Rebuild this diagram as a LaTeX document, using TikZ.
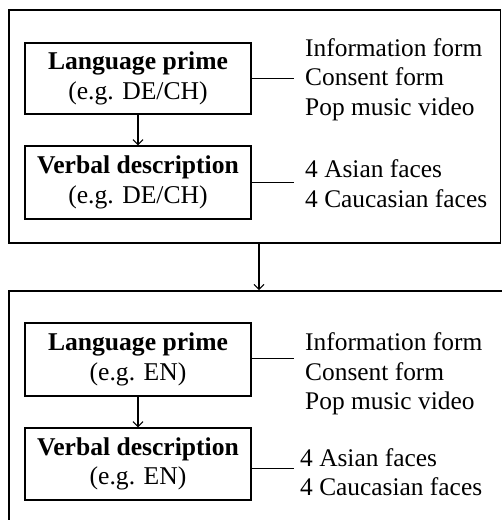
\documentclass[tikz,border=0pt]{standalone}
\usepackage{fontspec}
\setmainfont{Liberation Serif}
\usetikzlibrary{arrows.meta}
\begin{document}
\begin{tikzpicture}[x=1pt,y=-1pt,
  outerbox/.style={draw, line width=1.6pt, inner sep=0pt},
  stagebox/.style={draw, line width=1.2pt, inner sep=0pt, minimum width=226pt,
    align=center, font=\fontsize{25.6}{29.5}\selectfont},
  itemlist/.style={anchor=west, inner sep=0pt, align=left,
    font=\fontsize{25.4}{29.5}\selectfont},
  link/.style={line width=0.9pt},
  flow/.style={line width=1.1pt, -{Straight Barb[length=5pt,width=10pt]}}]
\useasboundingbox (0,0) rectangle (502,520);
\clip (0,0) rectangle (502,520);
% outer boxes
\node[outerbox, minimum width=491.5pt, minimum height=233pt] (outer1) at (254.75,126.5) {};
\node[outerbox, minimum width=531pt, minimum height=269pt] (outer2) at (274.5,425.5) {};
% stage 1
\node[stagebox, minimum height=71pt] (lp1) at (138,78.5) {\textbf{Language prime}\\(e.g. DE/CH)};
\node[stagebox, minimum height=73pt] (vd1) at (138,182.5) {\textbf{Verbal description}\\(e.g. DE/CH)};
\node[itemlist] (info1) at (305,79.5) {Information form\\Consent form\\Pop music video};
\node[itemlist] (faces1) at (305,183.5) {4 Asian faces\\4 Caucasian faces};
\coordinate (c1) at (294,78);
\coordinate (c2) at (294,182.5);
% stage 2
\node[stagebox, minimum height=73pt] (lp2) at (138,359.5) {\textbf{Language prime}\\(e.g. EN)};
\node[stagebox, minimum height=72pt] (vd2) at (138,464) {\textbf{Verbal description}\\(e.g. EN)};
\node[itemlist] (info2) at (305,374) {Information form\\Consent form\\Pop music video};
\node[itemlist] (faces2) at (300,472) {4 Asian faces\\4 Caucasian faces};
\coordinate (c3) at (294,358);
\coordinate (c4) at (294,468);
% connectors
\draw[flow] (lp1) -- (vd1);
\draw[flow] (lp2) -- (vd2);
\draw[link] (c1 -| lp1.east) -- (c1);
\draw[link] (c2 -| vd1.east) -- (c2);
\draw[link] (c3 -| lp2.east) -- (c3);
\draw[link] (c4 -| vd2.east) -- (c4);
\coordinate (m) at (259,0);
\draw[flow] (m |- outer1.south) -- (m |- outer2.north);
\end{tikzpicture}
\end{document}
